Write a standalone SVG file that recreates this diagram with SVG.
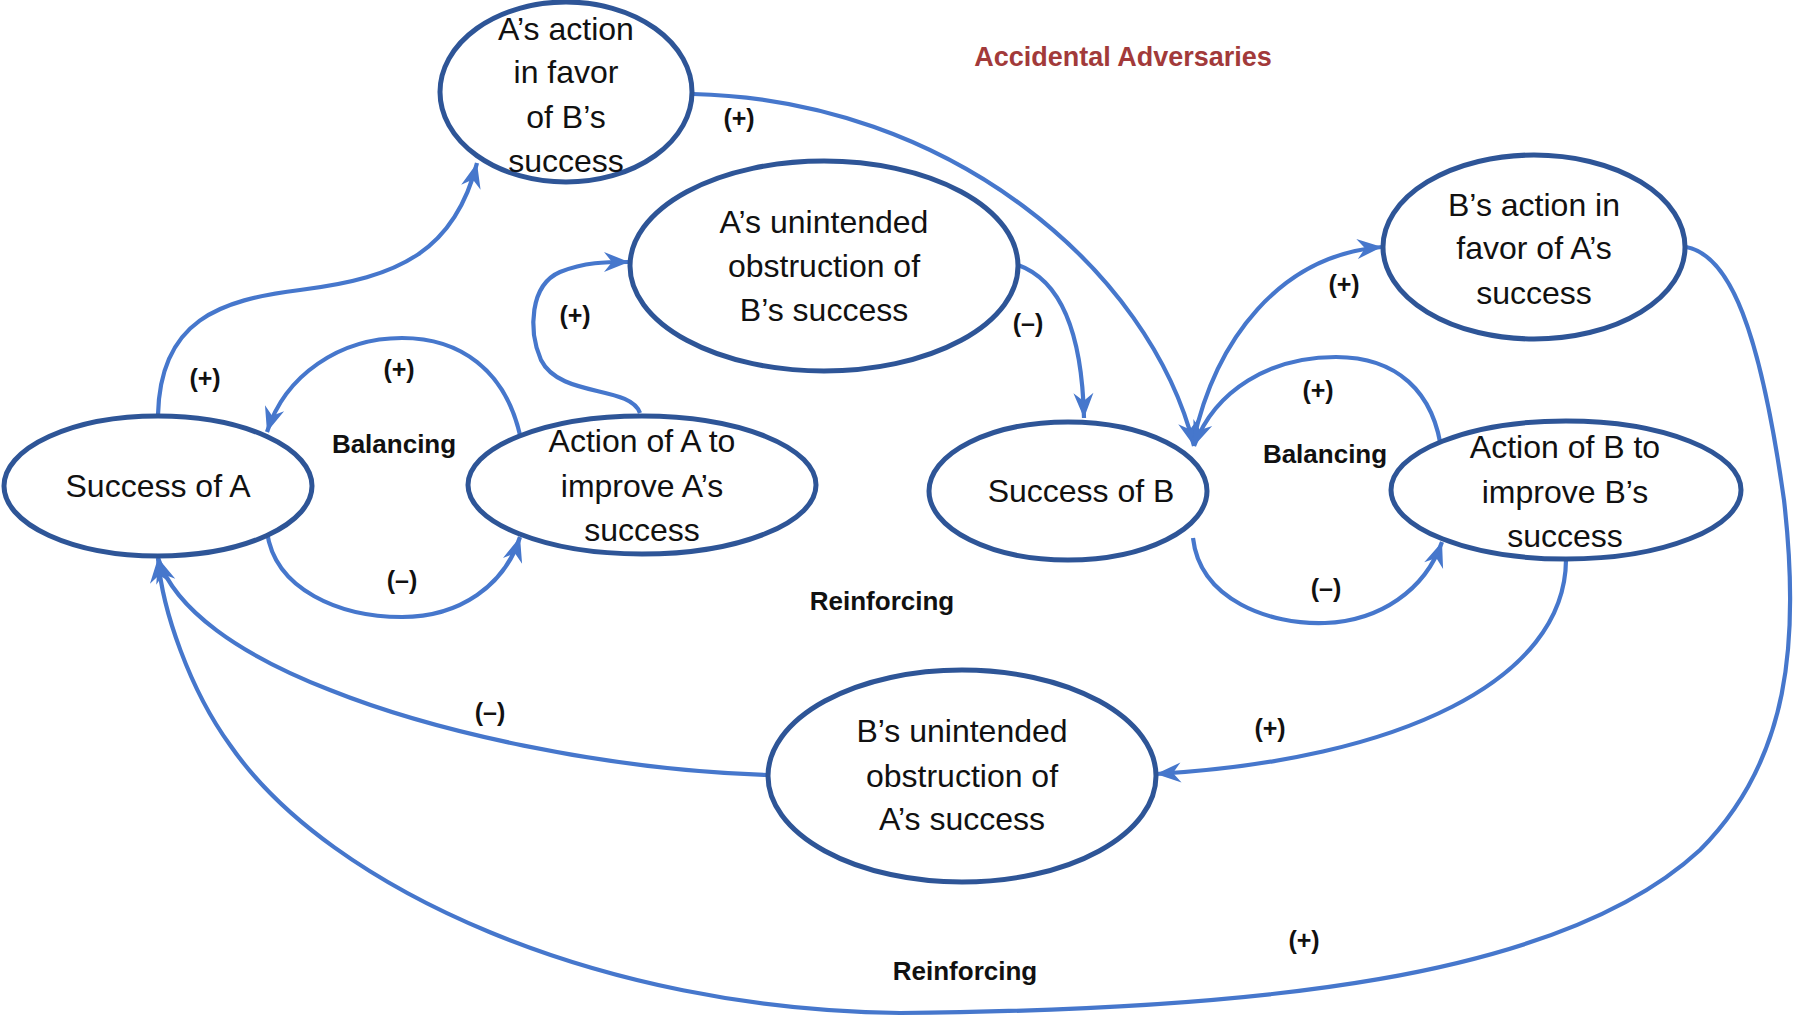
<svg xmlns="http://www.w3.org/2000/svg" width="1802" height="1020" viewBox="0 0 1802 1020">
<style>
.node{fill:#fff;stroke:#2E5597;stroke-width:5}
.t{font-family:"Liberation Sans",Arial,sans-serif;font-size:32px;fill:#111;text-anchor:middle;dominant-baseline:central}
.c{fill:none;stroke:#4677CC;stroke-width:4.2}
.lb{font-family:"Liberation Sans",Arial,sans-serif;font-size:26px;font-weight:bold;fill:#111;text-anchor:middle;dominant-baseline:central}
.sg{font-family:"Liberation Sans",Arial,sans-serif;font-size:25px;font-weight:bold;fill:#111;text-anchor:middle;dominant-baseline:central}
.title{font-family:"Liberation Sans",Arial,sans-serif;font-size:27px;font-weight:bold;fill:#A23A3A;text-anchor:middle;dominant-baseline:central}
</style>
<defs>
<marker id="ah" markerUnits="userSpaceOnUse" markerWidth="32" markerHeight="26" viewBox="-26 -13 28 26" refX="0" refY="0" orient="auto">
<path d="M0,0 L-25,-10 L-17,0 L-25,10 Z" fill="#4677CC"/>
</marker>
</defs>
<rect width="1802" height="1020" fill="#fff"/>
<text class="title" x="1123" y="57">Accidental Adversaries</text>
<g id="connectors">
<path class="c" d="M158,415 C160,320 220,300 300,290 C400,278 455,250 477,163" marker-end="url(#ah)"/>
<path class="c" d="M693,94 C950,100 1150,270 1194,446" marker-end="url(#ah)"/>
<path class="c" d="M1193,443 C1215,340 1280,255 1382,247" marker-end="url(#ah)"/>
<path class="c" d="M1442,455 C1435,390 1395,357 1336,357 C1270,357 1215,390 1194,446" marker-end="url(#ah)"/>
<path class="c" d="M1193,538 C1200,600 1270,625 1325,623 C1380,621 1425,590 1442,542" marker-end="url(#ah)"/>
<path class="c" d="M1018,265 C1060,280 1082,330 1084,418" marker-end="url(#ah)"/>
<path class="c" d="M640,413 C630,385 560,398 541,360 C528,330 530,285 560,272 C585,262 605,262 629,262" marker-end="url(#ah)"/>
<path class="c" d="M520,435 C505,370 460,338 402,338 C340,338 285,375 267,432" marker-end="url(#ah)"/>
<path class="c" d="M267,532 C275,590 340,617 402,617 C460,617 505,585 520,537" marker-end="url(#ah)"/>
<path class="c" d="M769,775 C600,770 430,730 330,690 C240,655 175,610 158,558" marker-end="url(#ah)"/>
<path class="c" d="M1686,247 C1730,255 1760,330 1784,500 C1800,640 1790,760 1700,850 C1560,980 1250,1010 900,1013 C600,1010 330,890 230,745 C190,690 162,610 158,558" marker-end="url(#ah)"/>
<path class="c" d="M1566,560 C1565,680 1400,760 1156,774" marker-end="url(#ah)"/>
</g>
<g id="n1"><ellipse class="node" cx="566" cy="92" rx="126" ry="90"/>
<text class="t" x="566" y="29">A’s action</text><text class="t" x="566" y="72">in favor</text><text class="t" x="566" y="117">of B’s</text><text class="t" x="566" y="161">success</text></g>
<g id="n2"><ellipse class="node" cx="824" cy="266" rx="194" ry="105"/>
<text class="t" x="824" y="222">A’s unintended</text><text class="t" x="824" y="266">obstruction of</text><text class="t" x="824" y="310">B’s success</text></g>
<g id="n3"><ellipse class="node" cx="1534" cy="247" rx="151" ry="92"/>
<text class="t" x="1534" y="205">B’s action in</text><text class="t" x="1534" y="248">favor of A’s</text><text class="t" x="1534" y="293">success</text></g>
<g id="n4"><ellipse class="node" cx="158" cy="486" rx="154" ry="70"/>
<text class="t" x="158" y="486">Success of A</text></g>
<g id="n5"><ellipse class="node" cx="642" cy="485" rx="174" ry="69"/>
<text class="t" x="642" y="441">Action of A to</text><text class="t" x="642" y="486">improve A’s</text><text class="t" x="642" y="530">success</text></g>
<g id="n6"><ellipse class="node" cx="1068" cy="491" rx="139" ry="69"/>
<text class="t" x="1081" y="491">Success of B</text></g>
<g id="n7"><ellipse class="node" cx="1566" cy="490" rx="175" ry="69"/>
<text class="t" x="1565" y="447">Action of B to</text><text class="t" x="1565" y="492">improve B’s</text><text class="t" x="1565" y="536">success</text></g>
<g id="n8"><ellipse class="node" cx="962" cy="776" rx="194" ry="106"/>
<text class="t" x="962" y="731">B’s unintended</text><text class="t" x="962" y="776">obstruction of</text><text class="t" x="962" y="819">A’s success</text></g>
<g id="labels">
<text class="lb" x="394" y="444">Balancing</text>
<text class="lb" x="1325" y="454">Balancing</text>
<text class="lb" x="882" y="601">Reinforcing</text>
<text class="lb" x="965" y="971">Reinforcing</text>
<text class="sg" x="739" y="118">(+)</text>
<text class="sg" x="205" y="378">(+)</text>
<text class="sg" x="399" y="369">(+)</text>
<text class="sg" x="402" y="580">(–)</text>
<text class="sg" x="575" y="315">(+)</text>
<text class="sg" x="1028" y="323">(–)</text>
<text class="sg" x="1344" y="284">(+)</text>
<text class="sg" x="1318" y="390">(+)</text>
<text class="sg" x="1326" y="588">(–)</text>
<text class="sg" x="490" y="712">(–)</text>
<text class="sg" x="1270" y="728">(+)</text>
<text class="sg" x="1304" y="940">(+)</text>
</g>
</svg>
